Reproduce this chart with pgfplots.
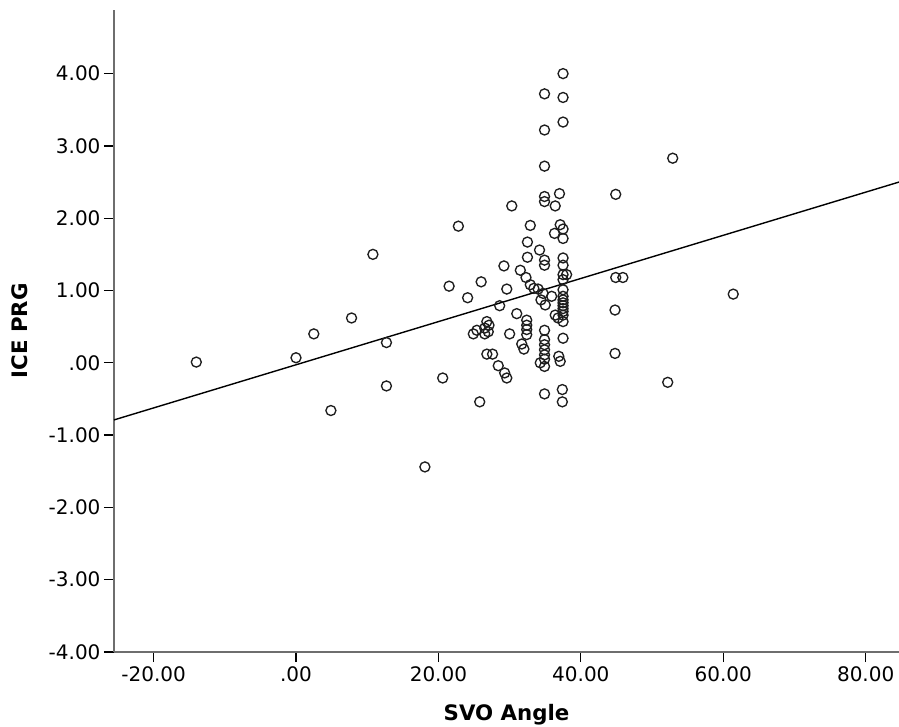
\documentclass[border=0pt]{standalone}
\usepackage{pgfplots}
\pgfplotsset{compat=1.18}
\usepackage{fontspec}
\setmainfont{DejaVu Sans}
\definecolor{axgray}{RGB}{110,110,110}
\definecolor{ptcol}{RGB}{30,30,30}
\begin{document}
\begin{tikzpicture}
\begin{axis}[
  scale only axis,
  width=785pt, height=642pt,
  xmin=-25.56, xmax=84.68,
  ymin=-4, ymax=4.88,
  axis lines*=left,
  axis line style={axgray, line width=1.4pt},
  tick align=outside,
  major tick length=10pt,
  tick style={black, line width=1.3pt},
  xtick={-20,0,20,40,60,80},
  xticklabels={-20.00,.00,20.00,40.00,60.00,80.00},
  ytick={-4,-3,-2,-1,0,1,2,3,4},
  yticklabels={-4.00,-3.00,-2.00,-1.00,.00,1.00,2.00,3.00,4.00},
  ticklabel style={font=\fontsize{20}{24}\selectfont},
  xticklabel style={yshift=-1pt},
  yticklabel style={xshift=0pt},
  xlabel={SVO Angle},
  ylabel={ICE PRG},
  label style={font=\fontsize{21.3}{25}\selectfont\bfseries},
  xlabel style={at={(axis description cs:0.5,-0.107)}, anchor=base},
  ylabel style={at={(axis description cs:-0.1096,0.5)}, anchor=base, rotate=0},
]
\addplot[only marks, mark=o, mark size=5pt, mark options={ptcol, line width=1.35pt}] coordinates {
(-14.0,0.01) (0.0,0.07) (2.5,0.40) (7.8,0.62) (4.9,-0.66) (10.8,1.50)
(12.7,0.28) (12.7,-0.32) (18.1,-1.44) (20.6,-0.21) (21.5,1.06) (22.8,1.89)
(24.1,0.90) (26.0,1.12) (25.8,-0.54) (24.9,0.40) (25.4,0.45) (26.5,0.40)
(26.5,0.48) (26.8,0.57) (27.1,0.52) (27.0,0.43) (26.8,0.12) (27.6,0.12)
(28.4,-0.04) (29.3,-0.14) (29.6,-0.21) (28.6,0.79) (29.2,1.34) (29.6,1.02)
(30.3,2.17) (30.0,0.40) (31.0,0.68) (31.5,1.28) (31.7,0.26) (32.0,0.19)
(32.3,1.18) (32.4,0.59) (32.4,0.52) (32.4,0.46) (32.4,0.39) (32.5,1.67)
(32.5,1.46) (32.9,1.90) (32.9,1.08) (33.4,1.03) (34.0,1.02) (34.2,1.56)
(34.4,0.87) (34.7,0.96) (35.0,0.80) (34.9,3.72) (34.9,3.22) (34.9,2.72)
(34.9,2.30) (34.9,2.23) (34.9,1.42) (34.9,1.35) (34.9,0.45) (34.9,0.32)
(34.9,0.25) (34.9,0.18) (34.9,0.11) (34.9,0.05) (34.3,0.00) (34.9,-0.05)
(34.9,-0.43) (35.9,0.92) (36.4,2.17) (36.3,1.79) (36.4,0.66) (36.8,0.62)
(37.0,2.34) (37.1,1.91) (37.5,1.85) (37.5,1.72) (37.5,4.00) (37.5,3.67)
(37.5,3.33) (37.5,1.45) (37.5,1.35) (37.5,1.22) (38.0,1.22) (37.5,1.15)
(37.5,1.01) (37.5,0.92) (37.5,0.87) (37.5,0.83) (37.5,0.79) (37.5,0.75)
(37.5,0.71) (37.5,0.66) (37.5,0.57) (37.5,0.34) (36.9,0.09) (37.1,0.02)
(37.4,-0.37) (37.4,-0.54) (44.9,2.33) (44.9,1.18) (45.9,1.18) (44.8,0.73)
(44.8,0.13) (52.2,-0.27) (52.9,2.83) (61.4,0.95)
};
\addplot[black, line width=1.4pt] coordinates {(-25.56,-0.79) (84.68,2.50)};
\end{axis}
\pgfresetboundingbox
\path[use as bounding box] (-114pt,-74pt) rectangle (785pt,652pt);
\end{tikzpicture}
\end{document}
